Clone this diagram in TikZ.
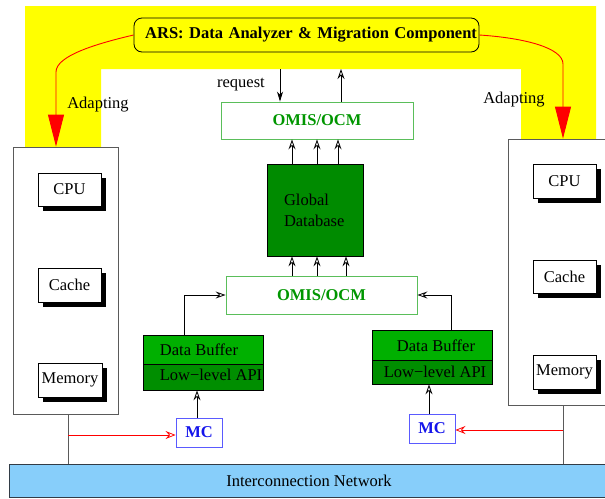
\documentclass[tikz,border=0pt]{standalone}
\usepackage{fontspec}
\setmainfont{Liberation Serif}
\usetikzlibrary{arrows.meta,shadows}
\definecolor{ylw}{RGB}{255,255,0}
\definecolor{dbgreen}{RGB}{0,139,0}
\definecolor{buftop}{RGB}{0,176,0}
\definecolor{bufbot}{RGB}{0,142,0}
\definecolor{omisline}{RGB}{90,190,90}
\definecolor{omistext}{RGB}{0,150,0}
\definecolor{mcline}{RGB}{90,90,255}
\definecolor{mctext}{RGB}{20,20,235}
\definecolor{netfill}{RGB}{135,206,250}
\definecolor{netline}{RGB}{50,60,70}
\definecolor{grayline}{RGB}{90,90,90}
\tikzset{
  hollowhead/.style={-{Stealth[open,length=10pt,width=7pt,inset=3.5pt]}},
  blackhead/.style={-{Stealth[length=10pt,width=6pt,inset=3pt]}},
  redhead/.style={red,-{Stealth[open,length=10pt,width=8pt,inset=3.5pt]}},
  bigred/.style={red,line width=0.9pt,-{Triangle[length=32pt,width=16pt]}},
  hwbox/.style={draw=black,fill=white,inner sep=0pt,line width=0.7pt,
    drop shadow={shadow xshift=4.5pt,shadow yshift=-4.5pt,fill=black,opacity=1}},
  nodebox/.style={draw=grayline,fill=white,inner sep=0pt,line width=0.8pt},
  omis/.style={draw=omisline,fill=white,line width=0.9pt,inner sep=0pt,
    text=omistext,font=\fontsize{16.5}{19}\selectfont\bfseries},
  mcbox/.style={draw=mcline,fill=white,line width=0.9pt,inner sep=0pt,
    text=mctext,font=\fontsize{16.5}{19}\selectfont\bfseries},
  plain/.style={inner sep=0pt}
}
\begin{document}
\begin{tikzpicture}[x=1pt,y=-1pt,font=\fontsize{16.5}{19}\selectfont,line width=0.8pt]
\useasboundingbox (0,0) rectangle (605,498);
\clip (0,0) rectangle (605,498);
% yellow region
\fill[ylw] (25,6) -- (596,6) -- (596,139) -- (521,139) -- (521,69) -- (101,69) -- (101,147) -- (25,147) -- cycle;
% ARS box
\node[draw=black,fill=ylw,rounded corners=8pt,line width=0.8pt,minimum height=34pt,
      text width=341pt,align=right,inner xsep=2pt,inner ysep=0pt,font=\fontsize{16.5}{19}\selectfont\bfseries]
      (ars) at (306.5,35) {ARS: Data Analyzer \& Migration Component};
% compute nodes
\node[nodebox,minimum width=105pt,minimum height=267pt] (lnode) at (65.5,280.5) {};
\node[nodebox,minimum width=104pt,minimum height=266pt] (rnode) at (560,272) {};
\node[hwbox,minimum width=63pt,minimum height=33pt] (lcpu) at (69.5,189.5) {CPU};
\node[hwbox,minimum width=63pt,minimum height=34pt] (lcache) at (69.5,285) {Cache};
\node[hwbox,minimum width=64pt,minimum height=34pt] (lmem) at (70,380) {Memory};
\node[hwbox,minimum width=63pt,minimum height=34pt] (rcpu) at (564.5,181) {CPU};
\node[hwbox,minimum width=63pt,minimum height=33pt] (rcache) at (564.5,276.5) {Cache};
\node[hwbox,minimum width=63pt,minimum height=34pt] (rmem) at (564.5,372) {Memory};
% adapting labels
\node[plain] (adl) at (98,105) {Adapting};
\node[plain] (adr) at (514,100) {Adapting};
% red adapting arrows
\coordinate (lbend) at (56,72);
\coordinate (rbend) at (563,64);
\draw[bigred] (ars.west) .. controls (95,44) and (56,56) .. (lbend) -- (lnode.north -| lbend);
\draw[bigred] (ars.east) .. controls (525,38) and (563,48) .. (rbend) -- (rnode.north -| rbend);
% OMIS boxes
\node[omis,minimum width=192pt,minimum height=37pt] (omis1) at (317,120.5) {OMIS/OCM};
\node[omis,minimum width=191pt,minimum height=38pt] (omis2) at (321.5,295) {OMIS/OCM};
% request
\node[plain] (req) at (241,85) {request};
\coordinate (reqtop) at (280,69);
\coordinate (anstop) at (341,69);
\draw[blackhead] (reqtop) -- (omis1.north -| reqtop);
\draw[hollowhead] (omis1.north -| anstop) -- (anstop);
% global database
\node[draw=black,fill=dbgreen,minimum width=96pt,minimum height=92pt,inner sep=0pt,
      text width=62pt,align=left] (db) at (315,210) {Global\\[2pt]Database};
\draw[hollowhead] (db.north -| 292,0) -- (omis1.south -| 292,0);
\draw[hollowhead] (db.north -| 317,0) -- (omis1.south -| 317,0);
\draw[hollowhead] (db.north -| 338,0) -- (omis1.south -| 338,0);
\draw[hollowhead] (omis2.north -| 292,0) -- (db.south -| 292,0);
\draw[hollowhead] (omis2.north -| 317,0) -- (db.south -| 317,0);
\draw[hollowhead] (omis2.north -| 346,0) -- (db.south -| 346,0);
% data buffers
\node[draw=black,fill=buftop,minimum width=120pt,minimum height=29pt,inner sep=0pt] (lbuf) at (203,349.5) {};
\node[draw=black,fill=bufbot,minimum width=120pt,minimum height=26pt,inner sep=0pt] (lapi) at (203,377) {};
\node[plain] (lbuft) at (199,350) {Data Buffer};
\node[plain] (lapit) at (211,375) {Low−level API};
\node[draw=black,fill=buftop,minimum width=120pt,minimum height=30pt,inner sep=0pt] (rbuf) at (432,345) {};
\node[draw=black,fill=bufbot,minimum width=120pt,minimum height=24pt,inner sep=0pt] (rapi) at (432,372) {};
\node[plain] (rbuft) at (436,346) {Data Buffer};
\node[plain] (rapit) at (435,372) {Low−level API};
\draw[hollowhead] (lbuf.north -| 184,0) |- (omis2.west);
\draw[hollowhead] (rbuf.north -| 451,0) |- (omis2.east);
% MC boxes
\node[mcbox,minimum width=46pt,minimum height=29pt] (mc1) at (199,432.5) {MC};
\node[mcbox,minimum width=46pt,minimum height=29pt] (mc2) at (432,428.5) {MC};
\draw[hollowhead] (mc1.north -| 197,0) -- (lapi.south -| 197,0);
\draw[hollowhead] (mc2.north -| 429,0) -- (rapi.south -| 429,0);
% network
\node[draw=netline,fill=netfill,line width=1pt,minimum width=600pt,minimum height=33pt,inner sep=0pt] (net) at (309,480.5) {Interconnection Network};
\coordinate (lj) at (68,435);
\coordinate (rj) at (563,430);
\draw[grayline] (lnode.south -| lj) -- (net.north -| lj);
\draw[grayline] (rnode.south -| rj) -- (net.north -| rj);
\draw[redhead] (lj) -- (mc1.west |- lj);
\draw[redhead] (rj) -- (mc2.east |- rj);
\end{tikzpicture}
\end{document}
